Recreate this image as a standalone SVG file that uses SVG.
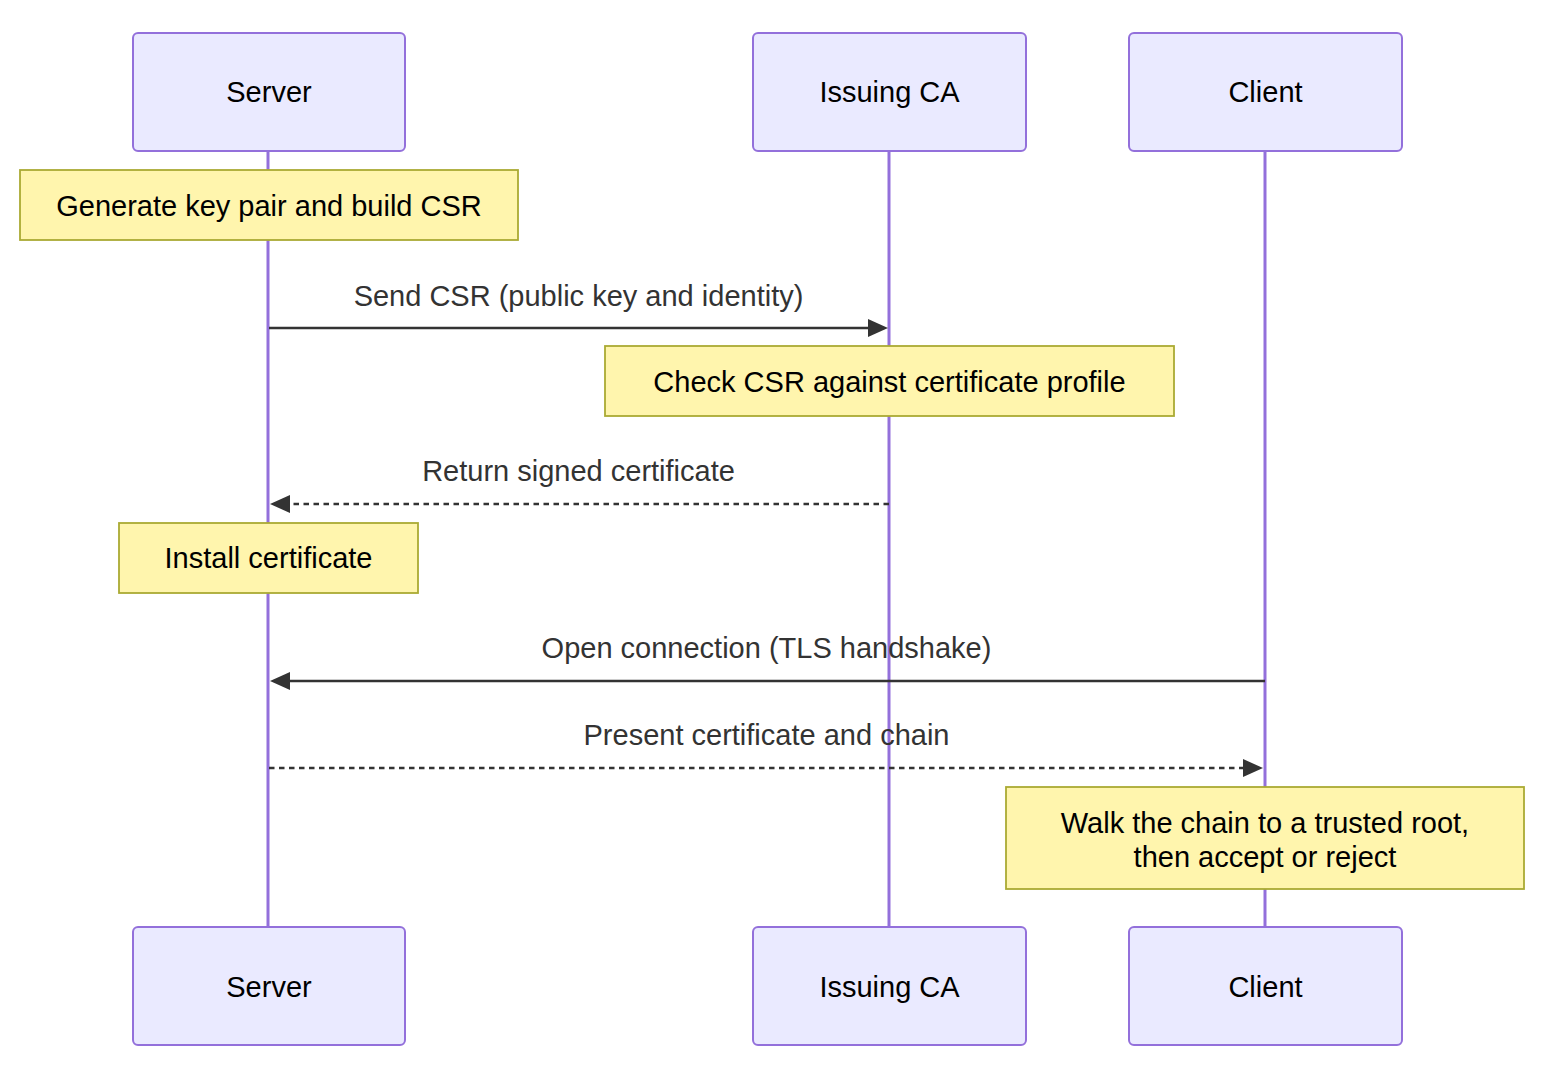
<svg xmlns="http://www.w3.org/2000/svg" width="1566" height="1084" viewBox="0 0 1566 1084">
<style>
.actor{fill:#EAEAFF;stroke:#9370DB;stroke-width:2}
.life{stroke:#9370DB;stroke-width:3}
.note{fill:#FFF5AD;stroke:#AAAA33;stroke-width:1.8}
.t{font-family:"Liberation Sans",Arial,sans-serif;font-size:29px;text-anchor:middle;fill:#000}
.m{font-family:"Liberation Sans",Arial,sans-serif;font-size:29px;text-anchor:middle;fill:#333}
.msg{stroke:#333;stroke-width:2.7;fill:none}
.dash{stroke-dasharray:5.5,4.5}
.head{fill:#333}
</style>
<rect width="1566" height="1084" fill="#fff"/>
<g id="lifelines">
<line class="life" x1="268" y1="151" x2="268" y2="927"/>
<line class="life" x1="889" y1="151" x2="889" y2="927"/>
<line class="life" x1="1265" y1="151" x2="1265" y2="927"/>
</g>
<g id="actor-server-top"><rect class="actor" x="133" y="33" width="272" height="118" rx="5"/><text class="t" x="269" y="102">Server</text></g>
<g id="actor-ca-top"><rect class="actor" x="753" y="33" width="273" height="118" rx="5"/><text class="t" x="889.5" y="102">Issuing CA</text></g>
<g id="actor-client-top"><rect class="actor" x="1129" y="33" width="273" height="118" rx="5"/><text class="t" x="1265.5" y="102">Client</text></g>
<g id="actor-server-bottom"><rect class="actor" x="133" y="927" width="272" height="118" rx="5"/><text class="t" x="269" y="997">Server</text></g>
<g id="actor-ca-bottom"><rect class="actor" x="753" y="927" width="273" height="118" rx="5"/><text class="t" x="889.5" y="997">Issuing CA</text></g>
<g id="actor-client-bottom"><rect class="actor" x="1129" y="927" width="273" height="118" rx="5"/><text class="t" x="1265.5" y="997">Client</text></g>
<g id="note-generate"><rect class="note" x="20" y="170" width="498" height="70"/><text class="t" x="269" y="216">Generate key pair and build CSR</text></g>
<g id="note-check"><rect class="note" x="605" y="346" width="569" height="70"/><text class="t" x="889.5" y="392">Check CSR against certificate profile</text></g>
<g id="note-install"><rect class="note" x="119" y="523" width="299" height="70"/><text class="t" x="268.5" y="568">Install certificate</text></g>
<g id="note-walk"><rect class="note" x="1006" y="787" width="518" height="102"/><text class="t" x="1265" y="833">Walk the chain to a trusted root,</text><text class="t" x="1265" y="867">then accept or reject</text></g>
<g id="connectors">
<text class="m" x="578.5" y="306">Send CSR (public key and identity)</text>
<line class="msg" x1="269" y1="328" x2="870" y2="328"/>
<polygon class="head" points="888,328 868,319 868,337"/>
<text class="m" x="578.5" y="481">Return signed certificate</text>
<line class="msg dash" x1="889" y1="504" x2="288" y2="504"/>
<polygon class="head" points="270,504 290,495 290,513"/>
<text class="m" x="766.5" y="658">Open connection (TLS handshake)</text>
<line class="msg" x1="1265" y1="681" x2="288" y2="681"/>
<polygon class="head" points="270,681 290,672 290,690"/>
<text class="m" x="766.5" y="745">Present certificate and chain</text>
<line class="msg dash" x1="269" y1="768" x2="1245" y2="768"/>
<polygon class="head" points="1263,768 1243,759 1243,777"/>
</g>
</svg>
